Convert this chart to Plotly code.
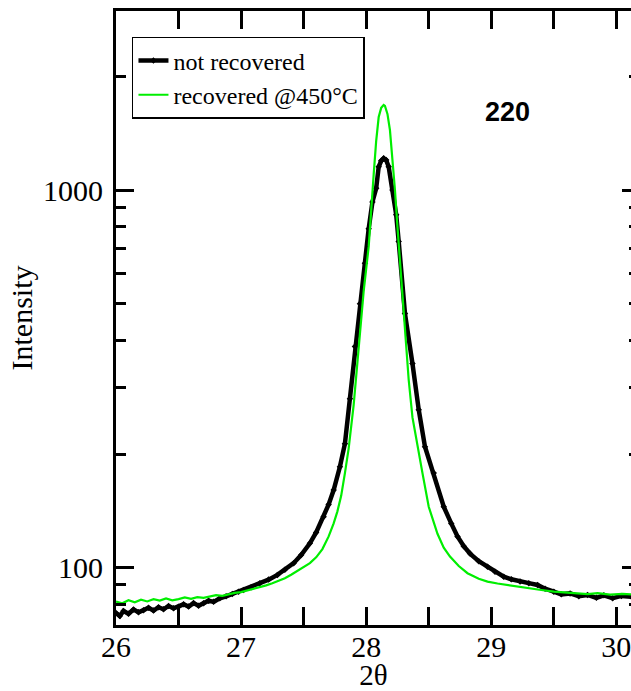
import plotly.graph_objects as go

# 2theta / intensity
x_not_recovered = [26.00, 26.03, 26.06, 26.10, 26.14, 26.18, 26.22, 26.26, 26.30, 26.34,
                   26.38, 26.42, 26.46, 26.50, 26.54, 26.58, 26.62, 26.66, 26.70, 26.74,
                   26.78, 26.83, 26.88, 26.93, 26.98, 27.02, 27.08, 27.15, 27.22, 27.29,
                   27.35, 27.42, 27.48, 27.55, 27.60, 27.66, 27.70, 27.74, 27.79, 27.83,
                   27.87, 27.91, 27.95, 27.99, 28.02, 28.05, 28.08, 28.10, 28.12, 28.14,
                   28.16, 28.18, 28.21, 28.24, 28.26, 28.31, 28.37, 28.42, 28.47, 28.54,
                   28.62, 28.68, 28.73, 28.78, 28.83, 28.90, 28.97, 29.03, 29.10, 29.16,
                   29.23, 29.30, 29.37, 29.43, 29.50, 29.56, 29.63, 29.70, 29.77, 29.84,
                   29.90, 29.97, 30.04, 30.12]
y_not_recovered = [75.9, 74.5, 76.8, 75.5, 77.5, 76.2, 77.2, 78.3, 77.0, 78.6,
                   77.6, 79.2, 78.1, 78.8, 80.0, 78.9, 80.6, 79.3, 80.5, 81.8,
                   81.2, 83.0, 84.0, 85.2, 86.4, 87.3, 88.8, 90.9, 93.0, 95.7,
                   98.8, 102.8, 108, 116, 124, 136.5, 147, 160.6, 185, 213,
                   280, 385, 500, 640, 790, 930, 1010, 1152, 1195, 1213,
                   1200, 1152, 1000, 860, 730, 471, 347, 262, 209, 178,
                   145, 131, 121, 114, 109, 104, 100.6, 97.5, 94.7, 93.2,
                   91.9, 91.0, 90.0, 88.0, 86.4, 85.0, 85.5, 84.0, 84.7, 83.2,
                   84.5, 83.0, 84.2, 83.8]

x_recovered = [26.00, 26.05, 26.10, 26.15, 26.20, 26.25, 26.30, 26.35, 26.40, 26.45,
               26.50, 26.55, 26.60, 26.65, 26.70, 26.75, 26.80, 26.85, 26.90, 26.95,
               27.00, 27.05, 27.10, 27.15, 27.20, 27.25, 27.30, 27.35, 27.40, 27.45,
               27.50, 27.55, 27.60, 27.65, 27.70, 27.74, 27.77, 27.80, 27.83, 27.86,
               27.90, 27.94, 27.98, 28.02, 28.04, 28.06, 28.08, 28.10, 28.12, 28.14,
               28.15, 28.17, 28.19, 28.21, 28.23, 28.25, 28.27, 28.30, 28.34, 28.37,
               28.41, 28.45, 28.50, 28.57, 28.62, 28.67, 28.74, 28.81, 28.90, 28.97,
               29.05, 29.15, 29.23, 29.30, 29.40, 29.50, 29.60, 29.70, 29.77, 29.85,
               29.95, 30.05, 30.12]
y_recovered = [81.3, 80.5, 82.0, 81.0, 82.3, 81.4, 82.5, 81.8, 82.9, 82.0,
               82.6, 83.4, 82.7, 83.6, 83.2, 84.0, 84.6, 84.2, 85.2, 85.8,
               86.2, 87.0, 87.9, 89.0, 89.8, 91.0, 92.3, 93.8, 95.8, 98.0,
               100.3, 102.8, 106.5, 112.0, 121, 131, 141, 155, 178, 207,
               270, 385, 540, 708, 900, 1100, 1350, 1560, 1650, 1679,
               1670, 1590, 1440, 1225, 1000, 800, 640, 471, 314, 250,
               209, 178, 145, 123, 113, 107, 101, 96.7, 93.5, 91.9,
               90.8, 89.7, 89.0, 88.2, 87.3, 86.4, 86.0, 85.4, 85.1, 85.6,
               84.9, 85.3, 85.0]

x_ticks = [26, 27, 28, 29, 30]
y_ticks = [100, 1000]
y_minor = [70, 80, 90, 200, 300, 400, 500, 600, 700, 800, 900, 2000, 3000]

SERIF = "Liberation Serif, Times New Roman, serif"

fig = go.Figure()
fig.add_trace(go.Scatter(
    x=x_not_recovered, y=y_not_recovered, name="not recovered",
    mode="lines+markers",
    line=dict(color="black", width=4.5),
    marker=dict(color="black", size=5, symbol="diamond"),
))
fig.add_trace(go.Scatter(
    x=x_recovered, y=y_recovered, name="recovered @450°C",
    mode="lines",
    line=dict(color="#00ee00", width=2.2),
))
# invisible helper trace so that the right-hand tick axis is drawn
fig.add_trace(go.Scatter(
    x=x_recovered[:1], y=y_recovered[:1], yaxis="y2", mode="markers",
    marker=dict(opacity=0), showlegend=False, hoverinfo="skip",
))

fig.add_annotation(
    text="<b>220</b>", xref="paper", yref="paper", x=0.761, y=0.8355,
    xanchor="center", yanchor="middle",
    showarrow=False, font=dict(family="Liberation Sans, Arial, sans-serif", size=27, color="black"),
)

yrange = [1.8483, 3.4739]
fig.update_layout(
    width=631, height=691,
    margin=dict(l=116, r=0, t=11, b=66, autoexpand=False),
    paper_bgcolor="white", plot_bgcolor="white",
    font=dict(family=SERIF, color="black", size=30),
    showlegend=True,
    legend=dict(
        x=0.031, y=0.9577, xanchor="left", yanchor="top",
        bgcolor="white", bordercolor="black", borderwidth=1.5,
        font=dict(family=SERIF, size=24, color="black"),
        tracegroupgap=0, itemwidth=30,
    ),
    xaxis=dict(
        range=[26, 30.117], tickmode="array", tickvals=x_ticks,
        ticks="inside", ticklen=18, tickwidth=2.5, tickcolor="black",
        showline=True, linewidth=3, linecolor="black", mirror="allticks",
        showgrid=False, zeroline=False, automargin=False,
        minor=dict(dtick=0.5, ticks="inside", ticklen=10, tickwidth=2.5, tickcolor="black", showgrid=False),
        tickfont=dict(family=SERIF, size=30),
        ticklabelstandoff=-7, ticklabeloverflow="allow",
        title=dict(text="2θ", font=dict(family=SERIF, size=29), standoff=8),
    ),
    yaxis=dict(
        type="log", range=yrange, tickmode="array", tickvals=y_ticks,
        ticktext=[str(v) for v in y_ticks],
        ticks="inside", ticklen=18, tickwidth=2.5, tickcolor="black",
        showline=True, linewidth=3, linecolor="black", mirror=False,
        showgrid=False, zeroline=False, automargin=False,
        minor=dict(tickvals=y_minor, ticks="inside", ticklen=10, tickwidth=2.5, tickcolor="black", showgrid=False),
        tickfont=dict(family=SERIF, size=30),
        ticklabelstandoff=4,
        title=dict(text="Intensity", font=dict(family=SERIF, size=30), standoff=2),
    ),
    yaxis2=dict(
        type="log", range=yrange, overlaying="y", side="right",
        tickmode="array", tickvals=y_ticks, showticklabels=False,
        ticks="inside", ticklen=9, tickwidth=2.5, tickcolor="black",
        showline=False, showgrid=False, zeroline=False, automargin=False,
        minor=dict(tickvals=y_minor, ticks="inside", ticklen=2, tickwidth=2.5, tickcolor="black", showgrid=False),
    ),
)

fig.write_html("out.html", post_script="document.body.style.margin='0px';",
               config={"displayModeBar": False})
